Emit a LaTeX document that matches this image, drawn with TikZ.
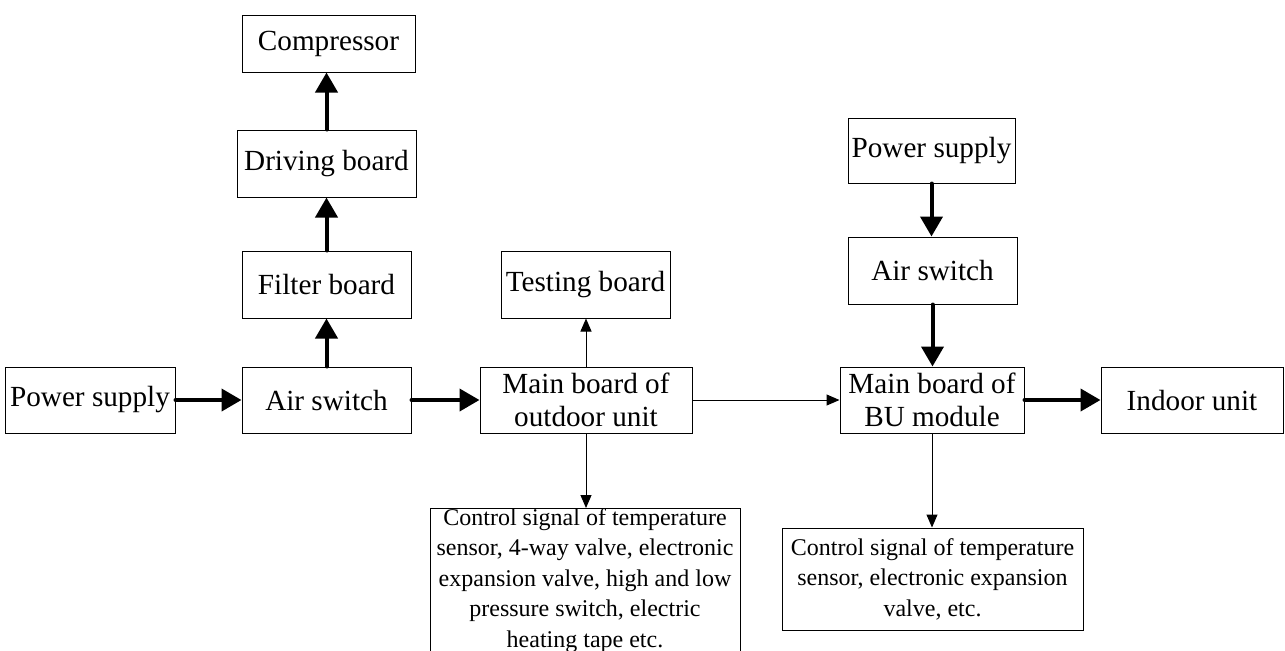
\documentclass[tikz,border=0pt]{standalone}
\usepackage{fontspec}
\setmainfont{Liberation Serif}
\usetikzlibrary{arrows.meta,positioning}

\begin{document}
\begin{tikzpicture}[x=0.5pt,y=-0.5pt,
 blk/.style={draw,line width=0.5pt,inner sep=0pt,align=center,font=\fontsize{14.6}{16.5}\selectfont},
 note/.style={blk,font=\fontsize{12}{15.2}\selectfont},
 pow/.style={line width=2pt,line cap=round,-{Triangle[length=10pt,width=11pt]}},
 sig/.style={line width=0.5pt,-{Triangle[length=6.5pt,width=5.5pt]}}]
\useasboundingbox (0,0) rectangle (1285,650);
% outdoor side
\node[blk,minimum width=86.5pt,minimum height=28.5pt] (comp) at (328.5,43.5) {Compressor};
\node[blk,minimum width=89.5pt,minimum height=33.5pt] (drive) at (326.5,163.5) {Driving board};
\node[blk,minimum width=84.5pt,minimum height=33.5pt] (filter) at (326.5,284.5) {Filter board};
\node[blk,minimum width=85pt,minimum height=33pt] (ps1) at (90,400) {Power supply};
\node[blk,minimum width=84.5pt,minimum height=33pt] (as1) at (326.5,400) {Air switch};
\node[blk,minimum width=84.5pt,minimum height=33.5pt] (test) at (585.5,284.5) {Testing board};
\node[blk,minimum width=106pt,minimum height=33pt] (mbo) at (586,400) {Main board of\\outdoor unit};
\node[note,minimum width=155pt,minimum height=80pt,anchor=north] (ctl1) at (585,508) {Control signal of temperature\\sensor, 4-way valve, electronic\\expansion valve, high and low\\pressure switch, electric\\heating tape etc.\\[1pt]};
% BU side
\node[blk,minimum width=83.5pt,minimum height=32.5pt] (ps2) at (931.5,150.5) {Power supply};
\node[blk,minimum width=84.5pt,minimum height=33.5pt] (as2) at (932.5,270.5) {Air switch};
\node[blk,minimum width=92pt,minimum height=33pt] (mbu) at (932,400) {Main board of\\BU module};
\node[blk,minimum width=91pt,minimum height=33pt] (indoor) at (1192,400) {Indoor unit};
\node[note,minimum width=150.5pt,minimum height=51pt] (ctl2) at (932.5,579) {Control signal of temperature\\sensor, electronic expansion\\valve, etc.};
% power lines
\draw[pow] (ps1) -- (as1);
\draw[pow] (as1) -- (mbo);
\draw[pow] (as1) -- (filter);
\draw[pow] (filter) -- (drive);
\draw[pow] (drive.north) -- (drive.north |- comp.south);
\draw[pow] (ps2.south) -- (ps2.south |- as2.north);
\draw[pow] (as2.south) -- (as2.south |- mbu.north);
\draw[pow] (mbu) -- (indoor);
% signal lines
\draw[sig] (mbo.north) -- (mbo.north |- test.south);
\draw[sig] (mbo.south) -- (mbo.south |- ctl1.north);
\draw[sig] (mbo) -- (mbu);
\draw[sig] (mbu.south) -- (mbu.south |- ctl2.north);
\end{tikzpicture}
\end{document}
